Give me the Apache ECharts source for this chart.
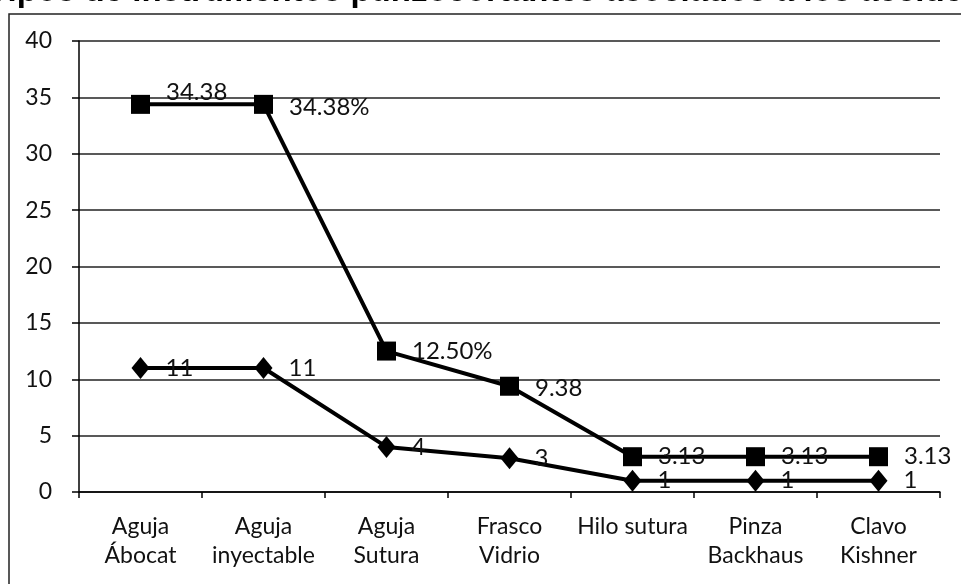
<!DOCTYPE html>
<html>
<head>
<meta charset="utf-8">
<script src="https://cdn.jsdelivr.net/npm/echarts@6/dist/echarts.min.js"></script>
<style>
html,body{margin:0;padding:0;background:#fff;}
#chart{width:961px;height:584px;}
</style>
</head>
<body>
<div id="chart"></div>
<script>
// Instrument categories
const categories = [
  'Aguja\nÁbocat', 'Aguja\ninyectable', 'Aguja\nSutura', 'Frasco\nVidrio',
  'Hilo sutura', 'Pinza\nBackhaus', 'Clavo\nKishner'
];
// Percentage of accidents per instrument
const percentValues = [34.38, 34.38, 12.50, 9.38, 3.13, 3.13, 3.13];
const percentLabels = ['34.38', '34.38%', '12.50%', '9.38', '3.13', '3.13', '3.13'];
// Number of accidents per instrument
const countValues = [11, 11, 4, 3, 1, 1, 1];
const countLabels = ['11', '11', '4', '3', '1', '1', '1'];
// Value axis
const yMin = 0, yMax = 40, yStep = 5;

const FONT = 'Lato, "Open Sans", sans-serif';
const chart = echarts.init(document.getElementById('chart'), null, {renderer: 'canvas'});

function labelled(values, texts, offsets) {
  return values.map((v, i) => ({
    value: v,
    label: { formatter: texts[i], offset: offsets[i] || [0, 0] }
  }));
}

chart.setOption({
  animation: false,
  backgroundColor: '#ffffff',
  graphic: [
    {
      type: 'text', x: -12, y: -8, z: 10,
      style: {
        text: 'Tipos de instrumentos punzocortantes asociados a los accidentes',
        font: 'bold 33px "Liberation Sans", Arial, sans-serif', fill: '#000',
        align: 'left', verticalAlign: 'middle'
      }
    },
    {
      type: 'polyline', z: 10,
      shape: { points: [[9, 584], [9, 14], [961, 14]] },
      style: { stroke: '#222', lineWidth: 1.5, fill: null }
    }
  ],
  grid: { left: 79, right: 21, top: 41, bottom: 92 },
  xAxis: {
    type: 'category',
    data: categories,
    boundaryGap: true,
    axisLine: { lineStyle: { color: '#000', width: 1.5 } },
    axisTick: { show: true, length: 6, lineStyle: { color: '#000', width: 1.5 } },
    axisLabel: {
      interval: 0, margin: 20, color: '#111',
      fontFamily: FONT, fontSize: 23, lineHeight: 29
    },
    splitLine: { show: false }
  },
  yAxis: {
    type: 'value', min: yMin, max: yMax, interval: yStep,
    axisLine: { show: true, lineStyle: { color: '#000', width: 1.5 } },
    axisTick: { show: true, length: 7, lineStyle: { color: '#000', width: 1.5 } },
    axisLabel: { margin: 27, color: '#111', fontFamily: FONT, fontSize: 23 },
    splitLine: { lineStyle: { color: '#222', width: 1.5 } }
  },
  series: [
    {
      name: 'Porcentaje',
      type: 'line',
      data: labelled(percentValues, percentLabels, [[0, -12], [0, 3], [0, 0], [0, 2], [0, 0], [0, 0], [0, 0]]),
      symbol: 'rect', symbolSize: 19,
      lineStyle: { color: '#000', width: 4 },
      itemStyle: { color: '#000' },
      label: {
        show: true, position: 'right', distance: 16,
        color: '#111', fontFamily: FONT, fontSize: 24
      },
      z: 3
    },
    {
      name: 'Casos',
      type: 'line',
      data: labelled(countValues, countLabels, [[0, 0], [0, 0], [0, 0], [0, 0], [0, 0], [0, 0], [0, 0]]),
      symbol: 'diamond', symbolSize: [18, 22],
      lineStyle: { color: '#000', width: 4 },
      itemStyle: { color: '#000' },
      label: {
        show: true, position: 'right', distance: 16,
        color: '#111', fontFamily: FONT, fontSize: 24
      },
      z: 3
    }
  ]
});
</script>
</body>
</html>
